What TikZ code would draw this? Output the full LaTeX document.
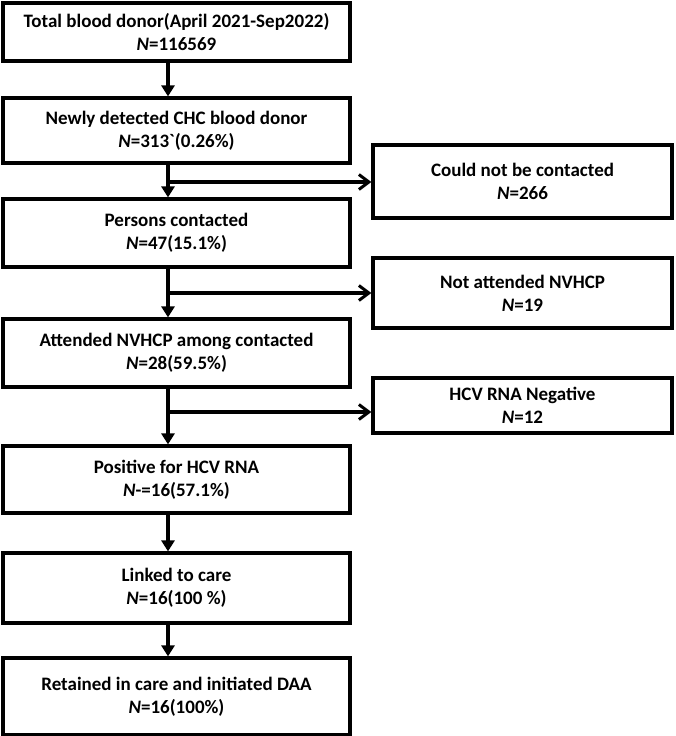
\documentclass[tikz,border=0pt]{standalone}
\usepackage{fontspec}
\setmainfont{Carlito}
\usepackage{tikz}
\usetikzlibrary{arrows.meta}

\begin{document}
\begin{tikzpicture}[x=1pt,y=-1pt]%
  \tikzstyle{boxl}=[rectangle,draw=black,line width=3.2pt,minimum width=347pt,align=center,inner sep=0,
    font=\fontsize{19}{23}\selectfont\bfseries]
  \tikzstyle{boxr}=[boxl,minimum width=299pt]
  \tikzstyle{vline}=[line width=3.2pt,-{Triangle[length=11pt,width=13pt]}]
  \tikzstyle{hline}=[line width=3.2pt,-{Straight Barb[length=10pt,width=15pt,line width=3pt]}]
  \useasboundingbox (0,0) rectangle (675,736);
  % main column
  \node(b1)[boxl,minimum height=58pt] at (176.5,32) {Total blood donor(April 2021-Sep2022)\\\textit{N}=116569};
  \node(b2)[boxl,minimum height=65pt] at (176.5,130.5) {Newly detected CHC blood donor\\\textit{N}=313\XeTeXglyph\XeTeXcharglyph"60\relax(0.26\%)};
  \node(b3)[boxl,minimum height=68pt] at (176.5,233) {Persons contacted\\\textit{N}=47(15.1\%)};
  \node(b4)[boxl,minimum height=68pt] at (176.5,353) {Attended NVHCP among contacted\\\textit{N}=28(59.5\%)};
  \node(b5)[boxl,minimum height=67pt] at (176.5,479.5) {Positive for HCV RNA\\\textit{N}-=16(57.1\%)};
  \node(b6)[boxl,minimum height=70pt] at (176.5,588) {Linked to care\\ \textit{N}=16(100 \%)};
  \node(b7)[boxl,minimum height=77pt] at (176.5,696.5) {Retained in care and initiated DAA\\\textit{N}=16(100\%)};
  % excluded
  \node(r1)[boxr,minimum height=73pt] at (522.5,181.5) {Could not be contacted\\\textit{N}=266};
  \node(r2)[boxr,minimum height=70pt] at (522.5,293) {Not attended NVHCP\\\textit{N}=19};
  \node(r3)[boxr,minimum height=55pt] at (522.5,405.5) {HCV RNA Negative\\\textit{N}=12};
  \coordinate(ax) at (168,0);
  \coordinate(j1) at (168,182);
  \coordinate(j2) at (168,293);
  \coordinate(j3) at (168,412);
  \draw[vline] (ax |- b1.south) -- (ax |- b2.north);
  \draw[vline] (ax |- b2.south) -- (ax |- b3.north);
  \draw[vline] (ax |- b3.south) -- (ax |- b4.north);
  \draw[vline] (ax |- b4.south) -- (ax |- b5.north);
  \draw[vline] (ax |- b5.south) -- (ax |- b6.north);
  \draw[vline] (ax |- b6.south) -- (ax |- b7.north);
  \draw[hline] (j1) -- (j1 -| r1.west);
  \draw[hline] (j2) -- (j2 -| r2.west);
  \draw[hline] (j3) -- (j3 -| r3.west);
\end{tikzpicture}
\end{document}
